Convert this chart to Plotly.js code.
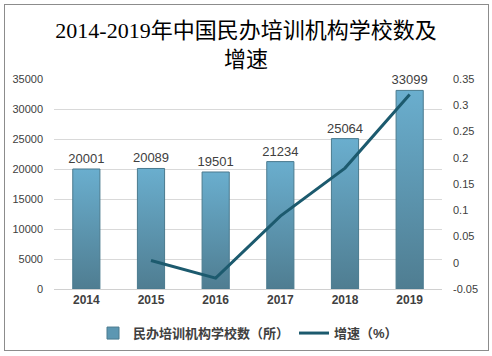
<!DOCTYPE html>
<html><head><meta charset="utf-8">
<script src="https://cdn.plot.ly/plotly-3.0.1.min.js"></script>
<style>
body{margin:0;padding:0;background:#fff;}
#wrap{position:relative;width:492px;height:356px;}
#chart{width:492px;height:356px;}
#frame{position:absolute;left:4px;top:4px;width:483px;height:345px;border:1px solid #8c8c8c;pointer-events:none;}
</style></head>
<body>
<div id="wrap"><div id="chart"></div><div id="frame"></div></div>
<script>
const years = ['2014','2015','2016','2017','2018','2019'];
const schools = [20001, 20089, 19501, 21234, 25064, 33099];
const growth = [null, 0.0044, -0.0293, 0.0889, 0.1803, 0.3206];
const leftTicks = [0,5000,10000,15000,20000,25000,30000,35000];
const rightTicks = [-0.05,0,0.05,0.1,0.15,0.2,0.25,0.3,0.35];
const rightTickText = ['-0.05','0','0.05','0.1','0.15','0.2','0.25','0.3','0.35'];

const tickFont = {family:'Liberation Sans, Arial, sans-serif', size:11, color:'#404040'};
const traces = [
 {type:'bar', x:years, y:schools, name:'民办培训机构学校数（所）',
  marker:{color:'#5c97b2', line:{color:'#4a7a8e', width:1}},
  text:schools.map(String), textposition:'outside', cliponaxis:false, constraintext:'none',
  textfont:{family:'Liberation Sans, Arial, sans-serif', size:13, color:'#404040'},
  hoverinfo:'none'},
 {type:'scatter', mode:'lines', x:years, y:growth, yaxis:'y2', name:'增速（%）',
  line:{color:'#1c5a6e', width:3}, connectgaps:false, hoverinfo:'none'}
];
const layout = {
 width:492, height:356,
 margin:{l:54, r:50, t:79, b:67, autoexpand:false},
 paper_bgcolor:'#fff', plot_bgcolor:'#fff',
 title:{text:'2014-2019年中国民办培训机构学校数及<br>增速', x:0.5, xanchor:'center', y:0.892, yanchor:'middle',
  font:{family:'Liberation Serif, Noto Sans CJK SC, serif', size:22, color:'#000'}},
 bargap:0.58,
 showlegend:true,
 legend:{orientation:'h', x:0.5, xanchor:'center', y:-0.21, yanchor:'middle',
  font:{family:'Liberation Sans, Noto Sans CJK SC, sans-serif', size:13, color:'#404040', weight:'bold'},
  itemwidth:30, tracegroupgap:0},
 xaxis:{type:'category', showgrid:false, showline:true, linecolor:'#d0d0d0', linewidth:1,
  ticks:'', tickfont:{family:'Liberation Sans, Arial, sans-serif', size:12, color:'#404040', weight:'bold'}, fixedrange:true},
 yaxis:{range:[0,35000], tickvals:leftTicks, ticktext:leftTicks.map(String), showgrid:true, gridcolor:'#d9d9d9', gridwidth:1,
  zeroline:false, showline:false, ticks:'', ticklabelstandoff:10, tickfont:tickFont, fixedrange:true},
 yaxis2:{overlaying:'y', side:'right', range:[-0.05,0.35], tickvals:rightTicks, ticktext:rightTickText,
  showgrid:false, zeroline:false, showline:false, ticks:'', ticklabelstandoff:10, tickfont:tickFont, fixedrange:true}
};
Plotly.newPlot('chart', traces, layout, {staticPlot:true, displayModeBar:false}).then(function(gd){
  const svg = gd.querySelector('svg.main-svg');
  const ns = 'http://www.w3.org/2000/svg';
  let defs = svg.querySelector('defs');
  const grad = document.createElementNS(ns,'linearGradient');
  grad.setAttribute('id','barGrad');
  grad.setAttribute('x1','0'); grad.setAttribute('y1','0');
  grad.setAttribute('x2','0'); grad.setAttribute('y2','1');
  [['0%','#6aaece'],['100%','#4f7d91']].forEach(function(s){
    const st = document.createElementNS(ns,'stop');
    st.setAttribute('offset',s[0]); st.setAttribute('stop-color',s[1]);
    grad.appendChild(st);
  });
  defs.appendChild(grad);
  gd.querySelectorAll('.barlayer .point path').forEach(function(p){
    p.style.fill = 'url(#barGrad)';
  });
});
</script>
</body></html>
